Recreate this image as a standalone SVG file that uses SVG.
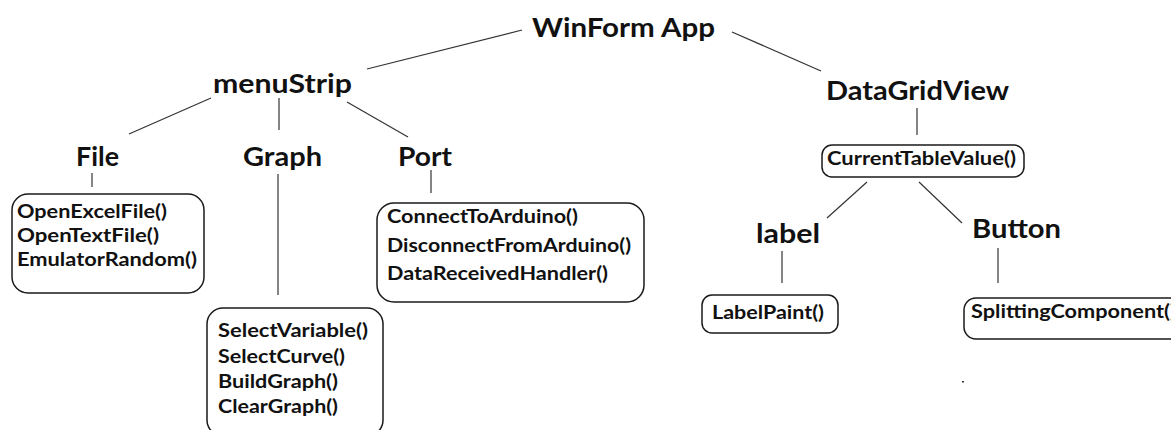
<svg xmlns="http://www.w3.org/2000/svg" width="1171" height="430" viewBox="0 0 1171 430">
  <style>
    .head { font-family: Lato, "Open Sans", "Liberation Sans", sans-serif; font-weight: 700; font-size: 26px; fill: #111; }
    .item { font-family: Lato, "Open Sans", "Liberation Sans", sans-serif; font-weight: 700; font-size: 18px; fill: #111; }
    .box { fill: none; stroke: #1a1a1a; stroke-width: 1.5; }
    .link { stroke: #333; stroke-width: 1.2; fill: none; }
  </style>
  <rect width="1171" height="430" fill="#fff"/>

  <!-- tree connectors -->
  <g id="connectors">
    <line class="link" x1="522" y1="30" x2="367" y2="69"/>
    <line class="link" x1="732" y1="32" x2="821" y2="71"/>
    <line class="link" x1="211" y1="98" x2="129" y2="134"/>
    <line class="link" x1="279" y1="98" x2="279" y2="130"/>
    <line class="link" x1="347" y1="102" x2="408" y2="137"/>
    <line class="link" x1="92" y1="173" x2="92" y2="187"/>
    <line class="link" x1="278" y1="174" x2="278" y2="295"/>
    <line class="link" x1="431" y1="170" x2="431" y2="193"/>
    <line class="link" x1="917" y1="108" x2="917" y2="135"/>
    <line class="link" x1="867" y1="182" x2="827" y2="218"/>
    <line class="link" x1="919" y1="182" x2="962" y2="223"/>
    <line class="link" x1="782" y1="251" x2="782" y2="283"/>
    <line class="link" x1="998" y1="248" x2="998" y2="283"/>
  </g>

  <g id="winform-app">
    <text class="head" x="532" y="37" font-size="27" textLength="183" lengthAdjust="spacingAndGlyphs">WinForm App</text>
  </g>

  <g id="menustrip">
    <text class="head" x="213" y="93" textLength="139" lengthAdjust="spacingAndGlyphs">menuStrip</text>
  </g>

  <g id="file">
    <text class="head" x="76" y="166" textLength="43" lengthAdjust="spacingAndGlyphs">File</text>
  </g>

  <g id="graph">
    <text class="head" x="243" y="166" textLength="79" lengthAdjust="spacingAndGlyphs">Graph</text>
  </g>

  <g id="port">
    <text class="head" x="398" y="166" textLength="54" lengthAdjust="spacingAndGlyphs">Port</text>
  </g>

  <g id="datagridview">
    <text class="head" x="826" y="100" textLength="183" lengthAdjust="spacingAndGlyphs">DataGridView</text>
  </g>

  <g id="label">
    <text class="head" x="756" y="243" textLength="64" lengthAdjust="spacingAndGlyphs">label</text>
  </g>

  <g id="button">
    <text class="head" x="972" y="238" textLength="89" lengthAdjust="spacingAndGlyphs">Button</text>
  </g>

  <!-- method lists -->
  <g id="file-methods">
    <rect class="box" x="12" y="194" width="192" height="99" rx="16"/>
    <text class="item" x="17" y="218" textLength="150" lengthAdjust="spacingAndGlyphs">OpenExcelFile()</text>
    <text class="item" x="17" y="242" textLength="142" lengthAdjust="spacingAndGlyphs">OpenTextFile()</text>
    <text class="item" x="17" y="266" textLength="180" lengthAdjust="spacingAndGlyphs">EmulatorRandom()</text>
  </g>

  <g id="graph-methods">
    <rect class="box" x="207" y="308" width="176" height="128" rx="16"/>
    <text class="item" x="218" y="337" textLength="150" lengthAdjust="spacingAndGlyphs">SelectVariable()</text>
    <text class="item" x="218" y="363" textLength="127" lengthAdjust="spacingAndGlyphs">SelectCurve()</text>
    <text class="item" x="218" y="388" textLength="120" lengthAdjust="spacingAndGlyphs">BuildGraph()</text>
    <text class="item" x="218" y="413" textLength="120" lengthAdjust="spacingAndGlyphs">ClearGraph()</text>
  </g>

  <g id="port-methods">
    <rect class="box" x="377" y="203" width="267" height="99" rx="17"/>
    <text class="item" x="387" y="223" textLength="191" lengthAdjust="spacingAndGlyphs">ConnectToArduino()</text>
    <text class="item" x="387" y="252" textLength="244" lengthAdjust="spacingAndGlyphs">DisconnectFromArduino()</text>
    <text class="item" x="387" y="280" textLength="221" lengthAdjust="spacingAndGlyphs">DataReceivedHandler()</text>
  </g>

  <g id="current-table-value">
    <rect class="box" x="822" y="145" width="202" height="32" rx="10"/>
    <text class="item" x="827" y="165" font-size="19" textLength="189" lengthAdjust="spacingAndGlyphs">CurrentTableValue()</text>
  </g>

  <g id="label-paint">
    <rect class="box" x="702" y="295" width="136" height="38" rx="10"/>
    <text class="item" x="712" y="319" font-size="19" textLength="112" lengthAdjust="spacingAndGlyphs">LabelPaint()</text>
  </g>

  <g id="splitting-component">
    <rect class="box" x="964" y="298" width="230" height="41" rx="12"/>
    <text class="item" x="971" y="318" font-size="19" textLength="205" lengthAdjust="spacingAndGlyphs">SplittingComponent()</text>
  </g>

  <rect x="962" y="381" width="2" height="1.5" fill="#333"/>
</svg>
